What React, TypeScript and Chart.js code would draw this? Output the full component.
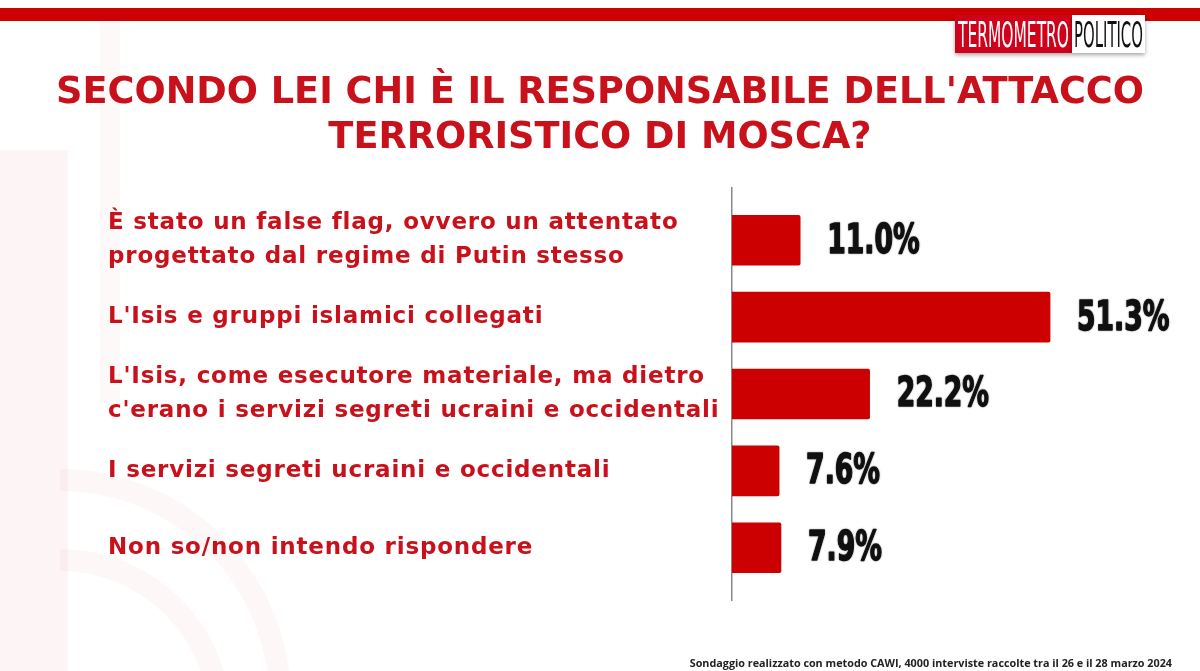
import React, { useEffect, useRef } from 'react';
import { Chart, registerables } from 'chart.js';

Chart.register(...registerables);

const categories: string[][] = [
  ['È stato un false flag, ovvero un attentato', 'progettato dal regime di Putin stesso'],
  ["L'Isis e gruppi islamici collegati"],
  ["L'Isis, come esecutore materiale, ma dietro", "c'erano i servizi segreti ucraini e occidentali"],
  ['I servizi segreti ucraini e occidentali'],
  ['Non so/non intendo rispondere'],
];
const values: number[] = [11.0, 51.3, 22.2, 7.6, 7.9];
const titleLines: string[] = ["SECONDO LEI CHI È IL RESPONSABILE DELL'ATTACCO", 'TERRORISTICO DI MOSCA?'];
const footnote = 'Sondaggio realizzato con metodo CAWI, 4000 interviste raccolte tra il 26 e il 28 marzo 2024';
const logoLeft = 'TERMOMETRO';
const logoRight = 'POLITICO';

const BAR_RED = '#cc0000';
const TEXT_RED = '#c8111b';

const decorPlugin = {
  id: 'decor',
  beforeDraw(chart: any) {
    const ctx: any = chart.ctx;
    const W = chart.width;
    const H = chart.height;
    ctx.save();
    ctx.fillStyle = '#ffffff';
    ctx.fillRect(0, 0, W, H);
    // faint watermark
    ctx.fillStyle = 'rgba(204,0,0,0.04)';
    ctx.fillRect(0, 150, 68, H - 150);
    ctx.fillStyle = 'rgba(204,0,0,0.025)';
    ctx.fillRect(100, 22, 20, 380);
    ctx.strokeStyle = 'rgba(204,0,0,0.03)';
    ctx.lineWidth = 22;
    ctx.beginPath();
    ctx.arc(60, 700, 220, -Math.PI / 2, 0);
    ctx.stroke();
    ctx.beginPath();
    ctx.arc(60, 720, 160, -Math.PI / 2, 0);
    ctx.stroke();
    // top bar
    ctx.fillStyle = BAR_RED;
    ctx.fillRect(0, 8, W, 13);
    // logo
    ctx.shadowColor = 'rgba(0,0,0,0.35)';
    ctx.shadowBlur = 4;
    ctx.shadowOffsetY = 2;
    ctx.fillStyle = '#d0021b';
    ctx.fillRect(955, 15, 117, 38);
    ctx.fillStyle = '#ffffff';
    ctx.fillRect(1072, 15, 73, 38);
    ctx.shadowColor = 'transparent';
    ctx.shadowBlur = 0;
    ctx.shadowOffsetY = 0;
    ctx.font = '35px "DejaVu Sans Condensed", sans-serif';
    ctx.textBaseline = 'alphabetic';
    ctx.textAlign = 'left';
    const wl = ctx.measureText(logoLeft).width;
    ctx.save();
    ctx.translate(958, 47);
    ctx.scale(111 / wl, 1);
    ctx.fillStyle = '#ffffff';
    ctx.fillText(logoLeft, 0, 0);
    ctx.restore();
    const wr = ctx.measureText(logoRight).width;
    ctx.save();
    ctx.translate(1074, 47);
    ctx.scale(69 / wr, 1);
    ctx.fillStyle = '#111111';
    ctx.fillText(logoRight, 0, 0);
    ctx.restore();
    ctx.restore();
    // widen tick label letter spacing (Montserrat-like width)
    ctx.letterSpacing = '0.8px';
  },
  afterDraw(chart: any) {
    const ctx: any = chart.ctx;
    ctx.letterSpacing = '0px';
    ctx.save();
    ctx.fillStyle = TEXT_RED;
    ctx.textAlign = 'center';
    ctx.textBaseline = 'alphabetic';
    ctx.font = 'bold 36.7px "DejaVu Sans", sans-serif';
    ctx.fillText(titleLines[0], 600, 103);
    ctx.fillText(titleLines[1], 600, 148);
    ctx.fillStyle = '#222222';
    ctx.textAlign = 'right';
    ctx.font = 'bold 10.8px "Open Sans", sans-serif';
    ctx.fillText(footnote, 1172, 667);
    ctx.restore();
  },
};

const valueLabelPlugin = {
  id: 'valueLabels',
  afterDatasetsDraw(chart: any) {
    const ctx: any = chart.ctx;
    const meta = chart.getDatasetMeta(0);
    ctx.save();
    ctx.letterSpacing = '0px';
    ctx.font = 'bold 40px "DejaVu Sans Condensed", sans-serif';
    ctx.fillStyle = '#111111';
    ctx.strokeStyle = '#111111';
    ctx.lineWidth = 1.4;
    ctx.lineJoin = 'round';
    ctx.textAlign = 'left';
    ctx.textBaseline = 'middle';
    ctx.shadowColor = 'rgba(0,0,0,0.3)';
    ctx.shadowBlur = 2;
    meta.data.forEach((bar: any, i: number) => {
      const txt = values[i].toFixed(1) + '%';
      ctx.save();
      ctx.translate(bar.x + 27, bar.y + 2);
      ctx.scale(0.74, 1);
      ctx.fillText(txt, 0, 0);
      ctx.strokeText(txt, 0, 0);
      ctx.restore();
    });
    ctx.restore();
  },
};

export default function App() {
  const ref = useRef<HTMLCanvasElement | null>(null);
  useEffect(() => {
    if (!ref.current) return;
    const chart = new Chart(ref.current, {
      type: 'bar',
      data: {
        datasets: [
          {
            data: values.map((v, i) => ({ x: v, y: i })) as any,
            backgroundColor: BAR_RED,
            borderWidth: 0,
            borderRadius: 2,
            barThickness: 50,
          },
        ],
      },
      options: {
        indexAxis: 'y',
        animation: false,
        responsive: false,
        maintainAspectRatio: false,
        layout: { padding: { left: 108, right: 96, top: 188, bottom: 71 } },
        plugins: {
          legend: { display: false },
          tooltip: { enabled: false },
          title: { display: false },
        },
        scales: {
          x: { type: 'linear', min: 0, max: 60, display: false },
          y: {
            type: 'linear',
            min: -0.68,
            max: 4.68,
            offset: false,
            reverse: true,
            afterBuildTicks: (s: any) => {
              s.ticks = categories.map((_, i) => ({ value: i }));
            },
            afterFit: (s: any) => {
              s.width = 624;
            },
            grid: { display: false },
            border: { display: true, color: '#888888', width: 1.5 },
            ticks: {
              crossAlign: 'far',
              color: TEXT_RED,
              padding: 0,
              font: { family: '"DejaVu Sans", sans-serif', weight: 'bold', size: 23, lineHeight: 1.48 },
              callback: (v: any) => categories[Number(v)] ?? '',
            },
          },
        },
      } as any,
      plugins: [decorPlugin, valueLabelPlugin],
    });
    return () => chart.destroy();
  }, []);
  return (
    <div style={{ position: 'fixed', left: 0, top: 0, width: 1200, height: 671, background: '#fff' }}>
      <canvas ref={ref} width={1200} height={671} style={{ display: 'block', width: 1200, height: 671 }} />
    </div>
  );
}
